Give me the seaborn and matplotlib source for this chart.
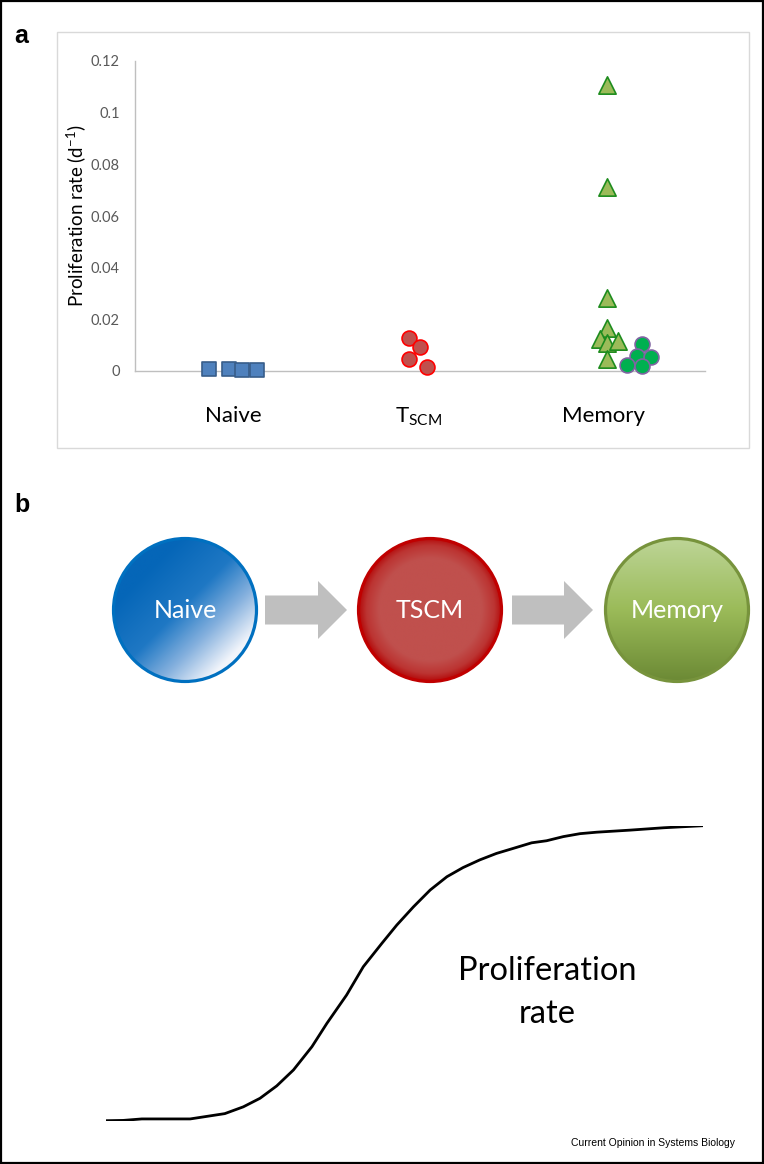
import numpy as np
import pandas as pd
import matplotlib
matplotlib.use("Agg")
import matplotlib.pyplot as plt
import matplotlib.patches as mpatches
from matplotlib.colors import LinearSegmentedColormap
from matplotlib.ticker import FuncFormatter
import seaborn as sns

# Panel a: proliferation rate (per day), x = category position with jitter
naive_pos = [0.87, 0.98, 1.05, 1.13]
naive_rate = [0.0008, 0.0008, 0.0003, 0.0003]
tscm_pos = [1.95, 2.01, 1.95, 2.05]
tscm_rate = [0.0129, 0.0093, 0.0048, 0.0017]
mem_tri_pos = [3.02, 3.02, 3.02, 3.02, 2.98, 3.02, 3.08, 3.02]
mem_tri_rate = [0.1107, 0.0713, 0.0284, 0.0168, 0.0125, 0.0110, 0.0116, 0.0048]
mem_dot_pos = [3.21, 3.18, 3.26, 3.13, 3.21]
mem_dot_rate = [0.0103, 0.0058, 0.0053, 0.0022, 0.0021]

cat_pos = [1, 2, 3]
cat_labels = ["Naive", "T$_{\\mathregular{SCM}}$", "Memory"]
y_ticks = [0, 0.02, 0.04, 0.06, 0.08, 0.1, 0.12]

# Panel b: differentiation stages and schematic proliferation curve
stages = ["Naive", "TSCM", "Memory"]
curve_x = [0.0, 0.029, 0.060, 0.141, 0.199, 0.230, 0.258, 0.286, 0.314, 0.345,
           0.370, 0.403, 0.431, 0.462, 0.487, 0.515, 0.543, 0.571, 0.598, 0.626,
           0.654, 0.682, 0.713, 0.738, 0.766, 0.794, 0.822, 0.878, 0.934, 1.0]
curve_y = [0.0, 0.001, 0.006, 0.006, 0.024, 0.047, 0.076, 0.118, 0.172, 0.251,
           0.330, 0.426, 0.522, 0.601, 0.663, 0.725, 0.782, 0.827, 0.858, 0.884,
           0.906, 0.923, 0.942, 0.949, 0.963, 0.973, 0.978, 0.985, 0.993, 1.0]

sns.set_theme(style="white")
plt.rcParams["font.family"] = ["Lato", "DejaVu Sans"]
plt.rcParams["mathtext.fontset"] = "custom"
plt.rcParams["mathtext.rm"] = "Lato"
plt.rcParams["text.color"] = "black"
plt.rcParams["axes.labelcolor"] = "black"

W, H = 764, 1164
fig = plt.figure(figsize=(W / 100, H / 100), dpi=100)

# background layer in pixel coordinates for frames and the schematic
bg = fig.add_axes([0, 0, 1, 1], zorder=0)
bg.set_xlim(0, W)
bg.set_ylim(H, 0)
bg.axis("off")

bg.add_patch(mpatches.Rectangle((0.8, 0.8), W - 2.3, H - 2.3, fill=False,
                                edgecolor="black", lw=1.6))
bg.add_patch(mpatches.Rectangle((57, 32), 692, 416, fill=False,
                                edgecolor="#D9D9D9", lw=1.0))
bg.text(14, 43, "a", fontsize=18, fontweight="bold", family="Liberation Sans")
bg.text(14, 512, "b", fontsize=18, fontweight="bold", family="Liberation Sans")
bg.text(735, 1146, "Current Opinion in Systems Biology", fontsize=7.5,
        family="Liberation Sans", ha="right", va="baseline")

# ---- panel a scatter ----
df = pd.concat([
    pd.DataFrame({"pos": naive_pos, "rate": naive_rate, "group": "naive"}),
    pd.DataFrame({"pos": tscm_pos, "rate": tscm_rate, "group": "tscm"}),
    pd.DataFrame({"pos": mem_tri_pos, "rate": mem_tri_rate, "group": "mem_tri"}),
    pd.DataFrame({"pos": mem_dot_pos, "rate": mem_dot_rate, "group": "mem_dot"}),
])
styles = {
    "naive": dict(marker="s", s=100, color="#4F81BD", edgecolor="#385D8A"),
    "tscm": dict(marker="o", s=115, color="#C0504D", edgecolor="#FF0000"),
    "mem_tri": dict(marker="^", s=155, color="#9BBB59", edgecolor="#1E8C1E"),
    "mem_dot": dict(marker="o", s=115, color="#00B050", edgecolor="#8064A2"),
}

ax = fig.add_axes([135 / W, 1 - 371 / H, 570 / W, 310 / H], zorder=1)
ax.set_facecolor("none")
for g, st in styles.items():
    sns.scatterplot(data=df[df["group"] == g], x="pos", y="rate", ax=ax,
                    linewidth=1.2, legend=False, zorder=3, clip_on=False, **st)

ax.set_xlim(0.47, 3.55)
ax.set_ylim(0, 0.12)
ax.set_yticks(y_ticks)
ax.yaxis.set_major_formatter(FuncFormatter(lambda v, p: "%g" % round(v, 3)))
ax.set_xticks(cat_pos)
ax.set_xticklabels(cat_labels)
ax.tick_params(axis="y", length=0, labelsize=10.5, labelcolor="#595959", pad=11)
ax.tick_params(axis="x", length=0, labelsize=16, labelcolor="black", pad=25)
ax.set_xlabel("")
ax.set_ylabel("Proliferation rate (d$^{\\mathregular{-1}}$)", fontsize=13.5)
ax.yaxis.set_label_coords(-0.081, 0.5)
for side in ["top", "right"]:
    ax.spines[side].set_visible(False)
for side in ["left", "bottom"]:
    ax.spines[side].set_color("#BFBFBF")
    ax.spines[side].set_linewidth(1.0)

# ---- panel b schematic ----
def disc(cx, cy, r, cmap, kind, edge):
    n = 300
    yy, xx = np.mgrid[-1:1:n * 1j, -1:1:n * 1j]
    if kind == "diag":
        t = np.clip((xx + yy) * 0.42 + 0.45, 0, 1)
    elif kind == "radial":
        t = np.clip(np.hypot(xx, yy), 0, 1)
    else:
        t = (yy + 1) / 2
    im = bg.imshow(t, cmap=cmap, vmin=0, vmax=1, aspect="auto",
                   extent=(cx - r, cx + r, cy + r, cy - r),
                   interpolation="bilinear", zorder=2)
    im.set_clip_path(mpatches.Circle((cx, cy), r, transform=bg.transData))
    bg.add_patch(mpatches.Circle((cx, cy), r, facecolor="none",
                                 edgecolor=edge, lw=2.3, zorder=3))

cm_naive = LinearSegmentedColormap.from_list(
    "naive", [(0, "#0566B8"), (0.42, "#1F78C4"), (0.72, "#86B1DE"), (1, "#F2F5FB")])
cm_tscm = LinearSegmentedColormap.from_list(
    "tscm", [(0, "#C0504D"), (0.72, "#C0504D"), (0.9, "#BC3432"), (1, "#B50D0D")])
cm_mem = LinearSegmentedColormap.from_list(
    "mem", [(0, "#BDD597"), (0.5, "#9BBB59"), (1, "#6C8A35")])

centers_x = [185, 430, 677]
cy, r = 610, 71.5
disc(centers_x[0], cy, r, cm_naive, "diag", "#0070C0")
disc(centers_x[1], cy, r, cm_tscm, "radial", "#C00000")
disc(centers_x[2], cy, r, cm_mem, "vert", "#77933C")
for cx, name in zip(centers_x, stages):
    bg.text(cx, cy, name, color="white", fontsize=18, ha="center", va="center",
            zorder=4)

for x0, x1 in [(265, 347), (512, 593)]:
    bg.add_patch(mpatches.FancyArrow(x0, cy, x1 - x0, 0, width=29,
                                     head_width=58, head_length=29,
                                     length_includes_head=True,
                                     color="#BFBFBF", lw=0, zorder=2))

cax = fig.add_axes([106 / W, 1 - 1120.7 / H, 597 / W, 295 / H], zorder=1)
cax.set_facecolor("none")
sns.lineplot(x=curve_x, y=curve_y, ax=cax, color="black", linewidth=2.0)
cax.set_xlim(0, 1)
cax.set_ylim(0, 1)
cax.axis("off")

bg.text(547, 980, "Proliferation", fontsize=23.5, ha="center", va="baseline")
bg.text(547, 1023, "rate", fontsize=23.5, ha="center", va="baseline")

fig.savefig("out.png", dpi=100)
